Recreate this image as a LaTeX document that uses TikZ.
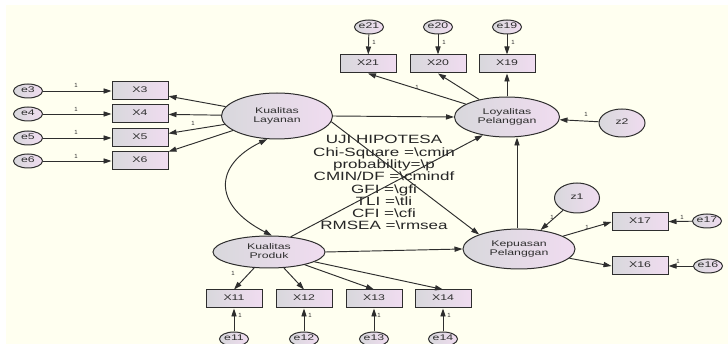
\documentclass[tikz,border=0pt]{standalone}
\usepackage{fontspec}
\setmainfont{Liberation Sans}
\usetikzlibrary{arrows.meta,shapes.geometric}
\definecolor{bg}{HTML}{FFFFF0}
\definecolor{ln}{HTML}{2E2E2E}
\definecolor{fillL}{HTML}{D8D8DC}
\definecolor{fillR}{HTML}{F0DCF0}
\newcommand\sx[1]{\scalebox{1.5}[1]{\begin{tabular}{@{}c@{}}#1\end{tabular}}}
\newcommand\bs{\textbackslash}
\begin{document}
\begin{tikzpicture}[x=1pt,y=-1pt,
  obs/.style={draw=ln, line width=1pt, left color=fillL, right color=fillR,
    minimum width=56pt, minimum height=18pt, inner sep=0pt,
    font=\fontsize{8.2}{9.5}\selectfont, text=ln},
  lat/.style={ellipse, draw=ln, line width=1pt, left color=fillL, right color=fillR,
    inner sep=0pt, font=\fontsize{8.2}{9.5}\selectfont, text=ln},
  err/.style={lat, minimum width=29pt, minimum height=14pt},
  arr/.style={draw=ln, line width=0.95pt, -{Triangle[length=8pt,width=5.2pt]}},
  biarr/.style={draw=ln, line width=0.95pt, {Triangle[length=8pt,width=5.2pt]}-{Triangle[length=8pt,width=5.2pt]}},
  one/.style={font=\fontsize{6}{6}\selectfont, text=ln, inner sep=0pt}
]
\useasboundingbox (0,0) rectangle (728,344);
\fill[white] (0,0) rectangle (728,344);
\fill[bg] (6,5) rectangle (728,344);

% latent variables
\node[lat, minimum width=111pt, minimum height=46pt] (kl) at (277,116) {\sx{Kualitas\\Layanan}};
\node[lat, minimum width=105pt, minimum height=40pt] (loy) at (507,117) {\sx{Loyalitas\\Pelanggan}};
\node[lat, minimum width=112pt, minimum height=40pt] (kep) at (519,249) {\sx{Kepuasan\\Pelanggan}};
\node[lat, minimum width=112pt, minimum height=32pt] (kp) at (269,252) {\sx{Kualitas\\Produk}};
\node[lat, minimum width=46pt, minimum height=28pt] (z2) at (622,123) {\sx{z2}};
\node[lat, minimum width=45pt, minimum height=30pt] (z1) at (577,198) {\sx{z1}};

% observed
\node[obs] (x3) at (140,91) {\sx{X3}};
\node[obs] (x4) at (140,114) {\sx{X4}};
\node[obs] (x5) at (140,138) {\sx{X5}};
\node[obs] (x6) at (140,161) {\sx{X6}};
\node[obs] (x21) at (368,64) {\sx{X21}};
\node[obs] (x20) at (438,64) {\sx{X20}};
\node[obs] (x19) at (507,64) {\sx{X19}};
\node[obs] (x17) at (640,222) {\sx{X17}};
\node[obs] (x16) at (640,266) {\sx{X16}};
\node[obs] (x11) at (234,299) {\sx{X11}};
\node[obs] (x12) at (304,299) {\sx{X12}};
\node[obs] (x13) at (374,299) {\sx{X13}};
\node[obs] (x14) at (443,299) {\sx{X14}};

% errors
\node[err] (e3) at (28,91) {\sx{e3}};
\node[err] (e4) at (28,114) {\sx{e4}};
\node[err] (e5) at (28,138) {\sx{e5}};
\node[err] (e6) at (28,161) {\sx{e6}};
\node[err] (e21) at (369,27) {\sx{e21}};
\node[err] (e20) at (438,27) {\sx{e20}};
\node[err] (e19) at (507,27) {\sx{e19}};
\node[err] (e17) at (707,221) {\sx{e17}};
\node[err] (e16) at (708,266) {\sx{e16}};
\node[err] (e11) at (234,339) {\sx{e11}};
\node[err] (e12) at (304,339) {\sx{e12}};
\node[err] (e13) at (374,339) {\sx{e13}};
\node[err] (e14) at (443,339) {\sx{e14}};

% text block
\node[font=\fontsize{12}{11.9}\selectfont, text=black!85, inner sep=0pt] (uji) at (384,184.5)
 {\scalebox{1.42}[1]{\begin{tabular}{@{}c@{}}UJI HIPOTESA\\Chi-Square =\bs cmin\\probability=\bs p\\CMIN/DF =\bs cmindf\\GFI =\bs gfi\\TLI =\bs tli\\CFI =\bs cfi\\RMSEA =\bs rmsea\end{tabular}}};

% connectors
\foreach \i in {3,4,5,6} {\draw[arr] (e\i) -- (x\i); \draw[arr] (kl) -- (x\i);}
\foreach \i in {21,20,19} {\draw[arr] (e\i) -- (x\i); \draw[arr] (loy) -- (x\i.south);}
\foreach \i in {11,12,13,14} {\draw[arr] (e\i) -- (x\i); \draw[arr] (kp) -- (x\i.north);}
\draw[arr] (e17) -- (x17);
\draw[arr] (e16) -- (x16);
\draw[arr] (kep) -- (x17.west);
\draw[arr] (kep) -- (x16.west);
\draw[arr] (z2) -- (loy);
\draw[arr] (z1) -- (kep);
\draw[arr] (kl.east) -- (loy.west);
\draw[arr] (kl.-6) -- (kep.160);
\draw[arr] (kp.35) -- (loy.217);
\draw[arr] (kp.east) -- (kep.west);
\coordinate (kepTop) at (517,0);
\draw[arr] (kep.north -| kepTop) -- (loy.south -| kepTop);
\draw[biarr] (kl.247) .. controls (214,165) and (212,205) .. (kp.80);

% labels "1"
\node[one] at (76,85) {1};
\node[one] at (76,109) {1};
\node[one] at (76,132) {1};
\node[one] at (76,156) {1};
\node[one] at (193,123) {1};
\node[one] at (417,87) {1};
\node[one] at (374,42) {1};
\node[one] at (444,42) {1};
\node[one] at (513,42) {1};
\node[one] at (586,114) {1};
\node[one] at (552,217) {1};
\node[one] at (587,227) {1};
\node[one] at (682,217) {1};
\node[one] at (678,261) {1};
\node[one] at (233,273) {1};
\node[one] at (240,315) {1};
\node[one] at (310,315) {1};
\node[one] at (379,315) {1};
\node[one] at (449,315) {1};
\end{tikzpicture}
\end{document}
